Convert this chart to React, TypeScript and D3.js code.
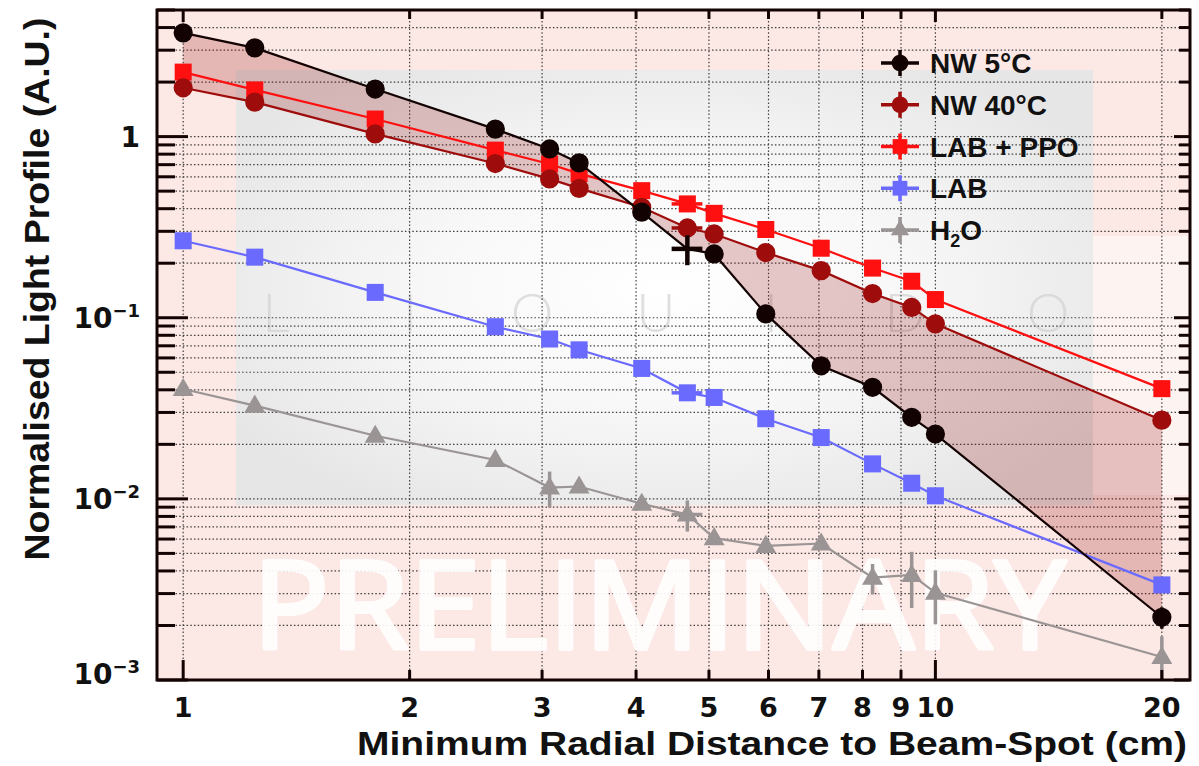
import React, { useEffect, useRef } from "react";
import * as d3 from "d3";

// distances (cm) shared by all series
const distances = [1, 1.245, 1.8, 2.6, 3.07, 3.36, 4.07, 4.68, 5.08, 5.95, 7.05, 8.25, 9.3, 10, 20];
const nw5 = [3.74, 3.09, 1.83, 1.1, 0.855, 0.716, 0.383, 0.24, 0.225, 0.105, 0.0543, 0.0413, 0.0282, 0.0228, 0.00222];
const nw40 = [1.86, 1.55, 1.035, 0.71, 0.584, 0.518, 0.407, 0.313, 0.29, 0.229, 0.182, 0.136, 0.114, 0.0925, 0.0272];
const labPpo = [2.27, 1.81, 1.25, 0.842, 0.706, 0.625, 0.503, 0.425, 0.377, 0.307, 0.242, 0.188, 0.159, 0.126, 0.0406];
const lab = [0.266, 0.216, 0.138, 0.0892, 0.0763, 0.0665, 0.0525, 0.0385, 0.0363, 0.0277, 0.0218, 0.0156, 0.0122, 0.0104, 0.00335];
const h2o = [0.0404, 0.0327, 0.0223, 0.0164, 0.01155, 0.0117, 0.0094, 0.0082, 0.00607, 0.0055, 0.00567, 0.00367, 0.0038, 0.00303, 0.00134];

const xErr = [0, 0, 0, 0, 0, 0, 0, 0.22, 0, 0, 0, 0, 0, 0, 0];
const h2oXErr = [0, 0, 0, 0, 0.06, 0, 0, 0.22, 0, 0.08, 0, 0.1, 0, 0, 0];
const nw5Err = [0, 0, 0, 0, 0, 0, 0.02, 0.045, 0, 0, 0.005, 0, 0, 0, 0.0003];
const h2oErr = [0, 0, 0, 0.0008, 0.0026, 0, 0.0004, 0.0016, 0, 0.0005, 0, 0.0007, 0.0013, 0.001, 0.0004];
const zeroErr = distances.map(() => 0);

const xTickValues = [1, 2, 3, 4, 5, 6, 7, 8, 9, 10, 20];
const yDecades = [1e-3, 1e-2, 1e-1, 1];
const yLabelExp = ["−3", "−2", "−1", ""];
const watermarkLetters = ["L", "I", "Q", "U", "I", "D", "O"];
const watermarkX = [276, 410, 532, 656, 771, 905, 1048];

const series = [
  { name: "NW 5°C", values: nw5, yErr: nw5Err, xErr, color: "#120202", marker: d3.symbolCircle, size: 290, hide: [7] },
  { name: "NW 40°C", values: nw40, yErr: zeroErr, xErr, color: "#9e0c0c", marker: d3.symbolCircle, size: 290, hide: [] },
  { name: "LAB + PPO", values: labPpo, yErr: zeroErr, xErr, color: "#ff1010", marker: d3.symbolSquare, size: 290, hide: [] },
  { name: "LAB", values: lab, yErr: zeroErr, xErr, color: "#6a6aff", marker: d3.symbolSquare, size: 290, hide: [] },
  { name: "H2O", values: h2o, yErr: h2oErr, xErr: h2oXErr, color: "#9a9494", marker: d3.symbolTriangle, size: 190, hide: [] },
];

const W = 1199;
const H = 766;
const L = 157, R = 1190, T = 10, B = 680;

export default function App() {
  const ref = useRef<SVGSVGElement | null>(null);

  useEffect(() => {
    const svg = d3.select(ref.current);
    svg.selectAll("*").remove();

    const x = d3.scaleLog().domain([0.923, 21.8]).range([L, R]);
    const y = d3.scaleLog().domain([1e-3, 5]).range([B, T]);

    const defs = svg.append("defs");
    const grad = defs.append("radialGradient").attr("id", "panel").attr("cx", "0.5").attr("cy", "0.5").attr("r", "0.6");
    grad.append("stop").attr("offset", "0").attr("stop-color", "#ffffff");
    grad.append("stop").attr("offset", "0.45").attr("stop-color", "#f8f8f8");
    grad.append("stop").attr("offset", "1").attr("stop-color", "#e6e6e6");

    // background
    svg.append("rect").attr("x", L).attr("y", T).attr("width", R - L).attr("height", B - T).attr("fill", "#fce8e5");
    svg.append("rect").attr("x", 236).attr("y", 70).attr("width", 1093 - 236).attr("height", 505 - 70).attr("fill", "url(#panel)");
    svg.append("rect").attr("x", 1093).attr("y", 236).attr("width", R - 1093).attr("height", 495 - 236).attr("fill", "#fdf4f2");

    // watermark letters
    svg
      .append("g")
      .selectAll("text")
      .data(watermarkLetters)
      .join("text")
      .attr("x", (d, i) => watermarkX[i])
      .attr("y", 332)
      .attr("text-anchor", "middle")
      .attr("font-family", "Lato, 'Open Sans', sans-serif")
      .attr("font-weight", 300)
      .attr("font-size", 54)
      .attr("fill", "#d2d2d2")
      .attr("opacity", 0.7)
      .text((d) => d);

    // grid values
    const yGrid: { v: number; major: boolean }[] = [];
    yDecades.forEach((d) => {
      for (let k = 1; k <= 9; k++) {
        const v = k * d;
        if (v <= 5) yGrid.push({ v, major: k === 1 });
      }
    });

    const grid = svg.append("g").attr("stroke", "#222").attr("stroke-width", 1.2).attr("stroke-dasharray", "1.5,2.2").attr("opacity", 0.85);
    grid
      .selectAll(".gh")
      .data(yGrid.filter((g) => g.v > 1e-3))
      .join("line")
      .attr("x1", L)
      .attr("x2", R)
      .attr("y1", (d) => y(d.v))
      .attr("y2", (d) => y(d.v));
    grid
      .selectAll(".gv")
      .data(xTickValues)
      .join("line")
      .attr("class", "gv")
      .attr("x1", (d) => x(d))
      .attr("x2", (d) => x(d))
      .attr("y1", T)
      .attr("y2", B);

    // PRELIMINARY
    svg
      .append("text")
      .attr("x", 252)
      .attr("y", 649)
      .attr("textLength", 814)
      .attr("lengthAdjust", "spacingAndGlyphs")
      .attr("font-family", "'Open Sans', Lato, sans-serif")
      .attr("font-weight", 400)
      .attr("font-size", 123)
      .attr("fill", "#ffffff")
      .attr("stroke", "#ffffff")
      .attr("stroke-width", 4)
      .attr("stroke-linejoin", "round")
      .attr("opacity", 0.92)
      .text("PRELIMINARY");

    // band between NW 5C and NW 40C
    const idx = distances.map((d, i) => i);
    const band = d3
      .area<number>()
      .x((i) => x(distances[i]))
      .y0((i) => y(nw40[i]))
      .y1((i) => y(nw5[i]));
    svg.append("path").attr("d", band(idx)).attr("fill", "rgba(140,0,0,0.21)");

    // series (drawn bottom to top)
    [...series].reverse().forEach((s) => {
      const g = svg.append("g");
      const line = d3
        .line<number>()
        .x((d, i) => x(distances[i]))
        .y((d) => y(d));
      g.append("path").attr("d", line(s.values)).attr("fill", "none").attr("stroke", s.color).attr("stroke-width", 2.2);

      s.values.forEach((v, i) => {
        const cx = x(distances[i]);
        const cy = y(v);
        if (s.yErr[i] > 0) {
          g.append("line")
            .attr("x1", cx).attr("x2", cx)
            .attr("y1", y(Math.max(v - s.yErr[i], 1.0e-3)))
            .attr("y2", y(v + s.yErr[i]))
            .attr("stroke", s.color).attr("stroke-width", s.hide.includes(i) ? 4.5 : 3.5);
        }
        if (s.xErr[i] > 0) {
          g.append("line")
            .attr("x1", x(distances[i] - s.xErr[i])).attr("x2", x(distances[i] + s.xErr[i]))
            .attr("y1", cy).attr("y2", cy)
            .attr("stroke", s.color).attr("stroke-width", s.hide.includes(i) ? 4.5 : 3.5);
        }
        if (!s.hide.includes(i)) {
          g.append("path")
            .attr("d", d3.symbol().type(s.marker).size(s.size)())
            .attr("transform", `translate(${cx},${cy + (s.marker === d3.symbolTriangle ? 1 : 0)})`)
            .attr("fill", s.color);
        }
      });
    });

    // frame
    svg.append("rect").attr("x", L).attr("y", T).attr("width", R - L).attr("height", B - T)
      .attr("fill", "none").attr("stroke", "#140303").attr("stroke-width", 3);

    // ticks
    const ticks = svg.append("g").attr("stroke", "#140303").attr("stroke-width", 3);
    yGrid.forEach((g) => {
      if (g.v <= 1e-3 && !g.major) return;
      const py = y(g.v);
      ticks.append("line").attr("x1", L).attr("x2", L + (g.major ? 31 : 18)).attr("y1", py).attr("y2", py);
      ticks.append("line").attr("x1", R).attr("x2", R - (g.major ? 16 : 11)).attr("y1", py).attr("y2", py);
    });
    xTickValues.forEach((v) => {
      const px = x(v);
      const major = v === 1 || v === 10;
      ticks.append("line").attr("x1", px).attr("x2", px).attr("y1", B).attr("y2", B - (major ? 20 : 10));
      ticks.append("line").attr("x1", px).attr("x2", px).attr("y1", T).attr("y2", T + (major ? 12 : 9));
    });

    // x tick labels
    svg
      .append("g")
      .selectAll("text")
      .data(xTickValues)
      .join("text")
      .attr("x", (d) => x(d))
      .attr("y", 717)
      .attr("text-anchor", "middle")
      .attr("font-family", "'DejaVu Sans', sans-serif")
      .attr("font-weight", "bold")
      .attr("font-size", 27)
      .attr("fill", "#111")
      .text((d) => String(d));

    // y tick labels
    yDecades.forEach((d, i) => {
      const t = svg
        .append("text")
        .attr("x", 140)
        .attr("y", Math.min(y(d), 674) + 10)
        .attr("text-anchor", "end")
        .attr("font-family", "'DejaVu Sans', sans-serif")
        .attr("font-weight", "bold")
        .attr("font-size", 28)
        .attr("fill", "#111");
      if (d === 1) {
        t.text("1");
      } else {
        t.append("tspan").text("10");
        t.append("tspan").attr("dy", -11).attr("font-size", 18).text(yLabelExp[i]);
      }
    });

    // axis titles
    svg
      .append("text")
      .attr("x", 1187)
      .attr("y", 755)
      .attr("text-anchor", "end")
      .attr("textLength", 830)
      .attr("lengthAdjust", "spacingAndGlyphs")
      .attr("font-family", "'Liberation Sans', Arial, sans-serif")
      .attr("font-weight", "bold")
      .attr("font-size", 34)
      .attr("fill", "#111")
      .text("Minimum Radial Distance to Beam-Spot (cm)");

    svg
      .append("text")
      .attr("transform", "translate(49,289) rotate(-90)")
      .attr("text-anchor", "middle")
      .attr("textLength", 543)
      .attr("lengthAdjust", "spacingAndGlyphs")
      .attr("font-family", "'Liberation Sans', Arial, sans-serif")
      .attr("font-weight", "bold")
      .attr("font-size", 35)
      .attr("fill", "#111")
      .text("Normalised Light Profile (A.U.)");

    // legend
    const legendY = d3.scaleLinear().domain([0, 4]).range([63, 230]);
    series.forEach((s, i) => {
      const ly = legendY(i);
      const g = svg.append("g");
      g.append("line").attr("x1", 881).attr("x2", 919).attr("y1", ly).attr("y2", ly).attr("stroke", s.color).attr("stroke-width", 3.5);
      g.append("line").attr("x1", 900).attr("x2", 900).attr("y1", ly - 13).attr("y2", ly + 13).attr("stroke", s.color).attr("stroke-width", 3.5);
      g.append("path")
        .attr("d", d3.symbol().type(s.marker).size(s.size * 0.75)())
        .attr("transform", `translate(900,${ly})`)
        .attr("fill", s.color);
      const t = g
        .append("text")
        .attr("x", 930)
        .attr("y", ly + 10)
        .attr("font-family", "'Liberation Sans', Arial, sans-serif")
        .attr("font-weight", "bold")
        .attr("font-size", 28)
        .attr("fill", "#111");
      if (s.name === "H2O") {
        t.append("tspan").text("H");
        t.append("tspan").attr("dy", 7).attr("font-size", 18).text("2");
        t.append("tspan").attr("dy", -7).text("O");
      } else {
        t.text(s.name);
      }
    });
  }, []);

  return (
    <svg
      ref={ref}
      width={W}
      height={H}
      style={{ position: "absolute", left: 0, top: 0, background: "#fff" }}
    />
  );
}
